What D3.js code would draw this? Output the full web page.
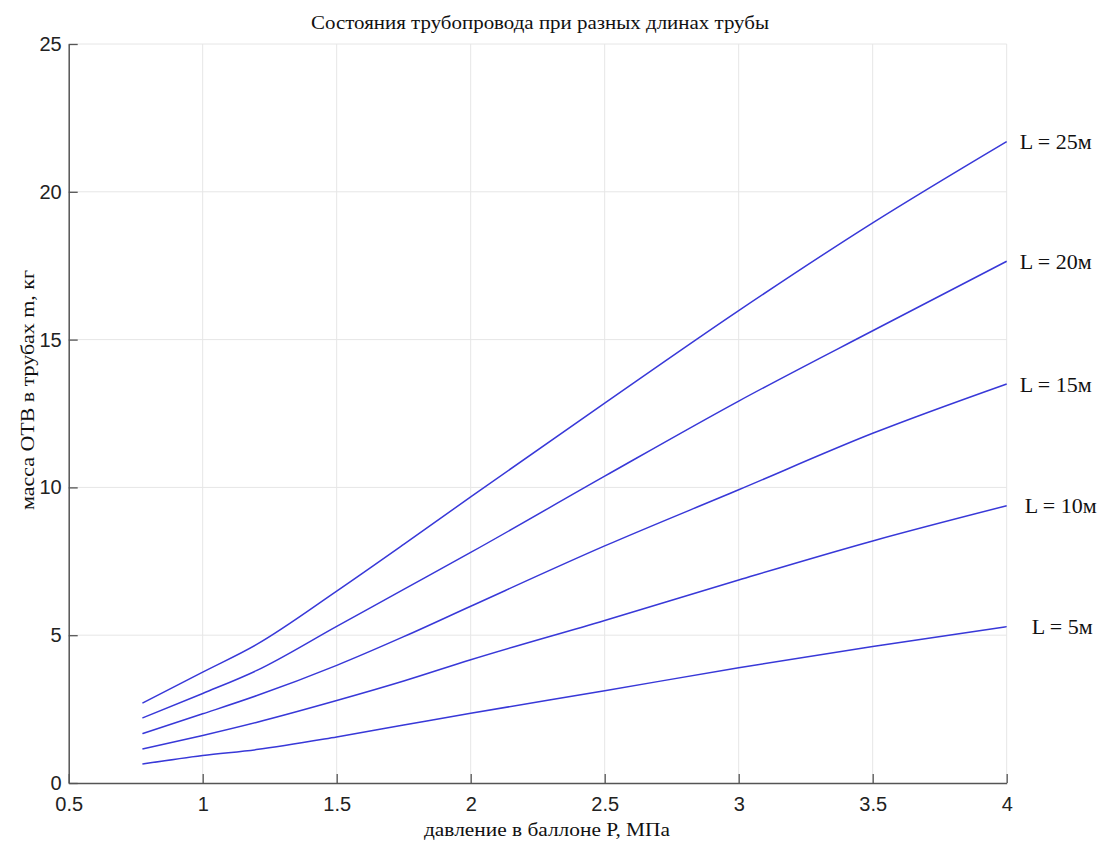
<!DOCTYPE html>
<html>
<head>
<meta charset="utf-8">
<script src="https://cdn.jsdelivr.net/npm/d3@7"></script>
<style>
  html, body { margin: 0; padding: 0; background: #fff; }
  svg { display: block; }
</style>
</head>
<body>
<svg id="chart" width="1113" height="843"></svg>
<script>
const pressure = [0.775, 1.0, 1.2, 1.5, 1.75, 2.0, 2.5, 3.0, 3.5, 4.0];
const massL25 = [2.70, 3.75, 4.68, 6.49, 8.07, 9.68, 12.85, 15.98, 18.95, 21.70];
const massL20 = [2.20, 3.03, 3.80, 5.30, 6.55, 7.80, 10.38, 12.92, 15.30, 17.65];
const massL15 = [1.67, 2.34, 2.95, 3.98, 4.95, 5.98, 8.02, 9.92, 11.83, 13.50];
const massL10 = [1.15, 1.61, 2.05, 2.79, 3.45, 4.17, 5.50, 6.87, 8.19, 9.38];
const massL5  = [0.64, 0.93, 1.13, 1.56, 1.96, 2.36, 3.12, 3.90, 4.62, 5.29];
const seriesNames = ["L = 25м", "L = 20м", "L = 15м", "L = 10м", "L = 5м"];
const xTicks = [0.5, 1, 1.5, 2, 2.5, 3, 3.5, 4];
const yTicks = [0, 5, 10, 15, 20, 25];
const titleText = "Состояния трубопровода при разных длинах трубы";
const xLabelText = "давление в баллоне  Р, МПа";
const yLabelText = "масса ОТВ в трубах m, кг";

const series = [massL25, massL20, massL15, massL10, massL5].map((vals, i) => ({
  name: seriesNames[i],
  points: pressure.map((p, j) => ({ x: p, y: vals[j] }))
}));

const svg = d3.select("#chart");
const plotLeft = 68.7, plotRight = 1006.7, plotTop = 44, plotBottom = 783;

const x = d3.scaleLinear().domain([0.5, 4]).range([plotLeft, plotRight]);
const y = d3.scaleLinear().domain([0, 25]).range([plotBottom, plotTop]);

// grid
const grid = svg.append("g");
grid.selectAll("line.gx").data(xTicks.slice(1)).enter().append("line")
  .attr("x1", d => x(d)).attr("x2", d => x(d))
  .attr("y1", plotTop).attr("y2", plotBottom)
  .attr("stroke", "#e6e6e6").attr("stroke-width", 1);
grid.selectAll("line.gy").data(yTicks.slice(1)).enter().append("line")
  .attr("x1", plotLeft).attr("x2", plotRight)
  .attr("y1", d => y(d)).attr("y2", d => y(d))
  .attr("stroke", "#e6e6e6").attr("stroke-width", 1);

const tickFont = "'Liberation Sans', Arial, Helvetica, sans-serif";
const serif = "'Liberation Serif', 'Times New Roman', serif";

// axes
const xAxis = d3.axisBottom(x).tickValues(xTicks).tickSizeInner(-9).tickSizeOuter(0)
  .tickPadding(14).tickFormat(d => String(d));
const gx = svg.append("g").attr("transform", `translate(0,${plotBottom})`).call(xAxis);
gx.select(".domain").attr("stroke", "#555").attr("stroke-width", 1.5);
gx.selectAll(".tick line").attr("stroke", "#555").attr("stroke-width", 1.3);
gx.selectAll(".tick text").attr("font-family", tickFont).attr("font-size", 20).attr("fill", "#222");

const yAxis = d3.axisLeft(y).tickValues(yTicks).tickSizeInner(-9).tickSizeOuter(0)
  .tickPadding(7).tickFormat(d => String(d));
const gy = svg.append("g").attr("transform", `translate(${plotLeft},0)`).call(yAxis);
gy.select(".domain").attr("stroke", "#555").attr("stroke-width", 1.5);
gy.selectAll(".tick line").attr("stroke", "#555").attr("stroke-width", 1.3);
gy.selectAll(".tick text").attr("font-family", tickFont).attr("font-size", 20).attr("fill", "#222");

// lines
const line = d3.line().x(d => x(d.x)).y(d => y(d.y)).curve(d3.curveMonotoneX);
svg.append("g").selectAll("path").data(series).enter().append("path")
  .attr("d", d => line(d.points))
  .attr("fill", "none").attr("stroke", "#3838d8").attr("stroke-width", 1.5);

// line labels
const labelDx = [13, 13, 13, 18, 25];
svg.append("g").selectAll("text").data(series).enter().append("text")
  .attr("x", (d, i) => x(4) + labelDx[i])
  .attr("y", d => y(d.points[d.points.length - 1].y))
  .attr("dy", "0.35em")
  .attr("font-family", serif).attr("font-size", 22).attr("fill", "#111")
  .text(d => d.name);

// title
svg.append("text").attr("x", 540).attr("y", 29).attr("text-anchor", "middle")
  .attr("font-family", serif).attr("font-size", 19).attr("fill", "#111")
  .attr("textLength", 458).attr("lengthAdjust", "spacingAndGlyphs").text(titleText);
// x label
svg.append("text").attr("x", 547).attr("y", 836).attr("text-anchor", "middle")
  .attr("font-family", serif).attr("font-size", 19).attr("fill", "#111")
  .attr("textLength", 246).attr("lengthAdjust", "spacingAndGlyphs").text(xLabelText);
// y label
svg.append("text").attr("transform", "translate(34,390) rotate(-90)").attr("text-anchor", "middle")
  .attr("font-family", serif).attr("font-size", 19).attr("fill", "#111")
  .attr("textLength", 240).attr("lengthAdjust", "spacingAndGlyphs").text(yLabelText);
</script>
</body>
</html>
